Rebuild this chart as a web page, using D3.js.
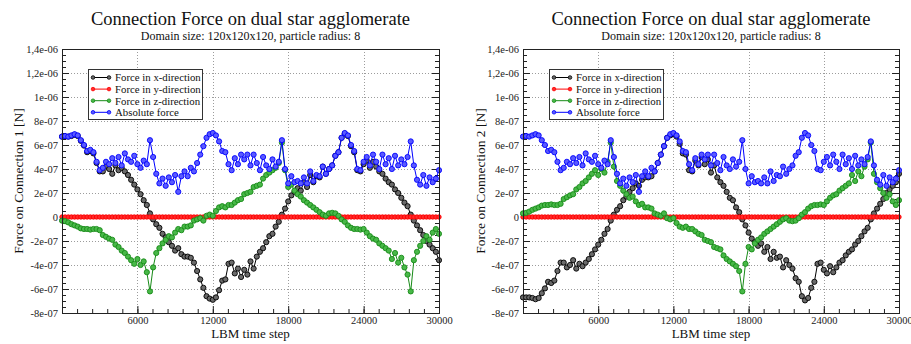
<!DOCTYPE html>
<html><head><meta charset="utf-8">
<script src="https://cdn.jsdelivr.net/npm/d3@7"></script>
<style>
body{margin:0;background:#fff;}
svg{display:block;font-family:"Liberation Serif","DejaVu Serif",serif;}
</style></head><body>
<svg id="c" width="911" height="344"></svg>
<script>
// LBM time steps of the samples (one every 250 steps)
const timeSteps = d3.range(0, 30001, 250);
// all forces below are in units of 1e-7 N
const absForce = [
 6.7,6.75,6.7,6.8,6.9,6.8,6.4,6.0,5.5,5.6,
 5.4,4.6,3.9,4.1,4.6,4.4,4.9,4.5,5.0,4.3,
 5.3,4.8,4.6,5.1,4.4,4.1,4.7,4.4,6.4,5.0,
 3.6,2.8,3.2,2.6,3.3,2.9,3.5,2.1,3.4,3.8,
 3.4,4.1,3.8,4.5,5.2,5.9,6.6,6.9,7.0,6.8,
 6.3,5.5,5.4,4.4,3.9,4.9,4.4,5.2,4.8,5.2,
 4.3,5.2,4.5,3.9,5.0,4.3,4.0,4.8,4.2,4.6,
 6.4,4.0,2.8,3.4,2.9,3.0,2.8,3.3,2.8,3.8,
 3.0,3.5,3.4,4.2,3.6,4.0,4.3,5.1,5.4,6.6,
 7.0,6.8,6.0,5.5,4.0,3.9,4.6,5.0,4.3,5.2,
 4.6,4.0,5.2,4.4,4.9,4.0,5.1,4.3,4.8,4.4,
 5.0,6.3,4.3,3.1,2.7,3.5,2.6,3.3,2.9,3.2,
 3.9];
const conn1X = [
 6.7,6.7,6.7,6.75,6.85,6.75,6.35,5.95,5.4,5.5,
 5.3,4.5,3.8,3.8,4.2,4.0,3.6,4.3,3.9,4.1,
 3.8,3.5,3.1,2.7,2.3,1.9,1.4,1.0,0.3,-0.2,
 -0.6,-0.9,-1.4,-1.7,-2.1,-2.4,-2.8,-2.6,-3.1,-3.3,
 -3.3,-3.4,-3.8,-4.5,-5.2,-5.9,-6.6,-6.8,-6.9,-6.7,
 -6.1,-5.3,-5.2,-3.9,-3.8,-4.7,-4.3,-5.0,-4.4,-4.8,
 -3.7,-4.3,-3.3,-2.9,-2.6,-2.1,-1.6,-1.4,-0.8,-0.4,
 0.2,0.7,1.3,1.8,2.1,2.4,2.2,2.9,2.5,3.5,
 2.9,3.4,3.3,4.2,3.6,4.0,4.3,5.1,5.4,6.6,
 6.95,6.75,5.9,5.4,3.9,3.8,4.4,4.7,4.1,4.6,
 4.2,3.8,3.6,3.2,2.9,2.7,2.3,2.0,1.6,1.2,
 0.9,0.2,-0.3,-0.7,-1.1,-1.5,-2.0,-2.3,-2.6,-2.9,
 -3.6];
const conn1Y = [
 0,0,0,0,0,0,0,0,0,0, 0,0,0,0,0,0,0,0,0,0, 0,0,0,0,0,0,0,0,0,0,
 0,0,0,0,0,0,0,0,0,0, 0,0,0,0,0,0,0,0,0,0, 0,0,0,0,0,0,0,0,0,0,
 0,0,0,0,0,0,0,0,0,0, 0,0,0,0,0,0,0,0,0,0, 0,0,0,0,0,0,0,0,0,0,
 0,0,0,0,0,0,0,0,0,0, 0,0,0,0,0,0,0,0,0,0, 0,0,0,0,0,0,0,0,0,0,
 0];
const conn1Z = [
 -0.3,-0.35,-0.45,-0.6,-0.7,-0.8,-0.95,-1.0,-1.0,-1.05,
 -1.0,-1.0,-1.1,-1.5,-1.65,-1.8,-1.9,-2.3,-2.5,-2.8,
 -3.0,-3.3,-3.6,-3.9,-3.5,-4.0,-3.7,-4.6,-6.2,-4.2,
 -3.0,-2.6,-2.2,-1.9,-1.6,-1.7,-1.3,-1.0,-1.1,-0.8,
 -0.8,-0.7,-0.3,-0.2,-0.1,-0.3,0.1,0.2,0.1,0.5,
 0.8,0.9,0.8,1.0,1.0,1.2,1.4,1.5,1.9,2.0,
 2.1,2.5,2.6,2.7,3.2,3.5,3.7,3.9,4.1,4.5,
 6.2,3.9,2.5,2.7,2.2,1.9,1.7,1.4,1.2,1.0,
 0.8,0.6,0.4,0.2,0.1,0.3,0.35,0.3,0.1,-0.2,
 -0.4,-0.7,-0.9,-1.0,-1.0,-1.05,-1.0,-1.3,-1.6,-1.8,
 -1.9,-2.2,-2.4,-2.6,-2.8,-3.5,-3.0,-3.8,-3.4,-4.2,
 -4.8,-6.2,-3.6,-2.9,-2.4,-2.0,-1.6,-1.9,-1.3,-1.0,
 -1.4];
const conn2X = [
 -6.7,-6.7,-6.7,-6.75,-6.85,-6.75,-6.35,-5.95,-5.4,-5.5,
 -5.3,-4.5,-3.8,-3.8,-4.2,-4.0,-3.6,-4.3,-3.9,-4.1,
 -3.8,-3.5,-3.1,-2.7,-2.3,-1.9,-1.4,-1.0,-0.3,0.2,
 0.6,0.9,1.4,1.7,2.1,2.4,2.8,2.6,3.1,3.3,
 3.3,3.4,3.8,4.5,5.2,5.9,6.6,6.8,6.9,6.7,
 6.1,5.3,5.2,3.9,3.8,4.7,4.3,5.0,4.4,4.8,
 3.7,4.3,3.3,2.9,2.6,2.1,1.6,1.4,0.8,0.4,
 -0.2,-0.7,-1.3,-1.8,-2.1,-2.4,-2.2,-2.9,-2.5,-3.5,
 -2.9,-3.4,-3.3,-4.2,-3.6,-4.0,-4.3,-5.1,-5.4,-6.6,
 -6.95,-6.75,-5.9,-5.4,-3.9,-3.8,-4.4,-4.7,-4.1,-4.6,
 -4.2,-3.8,-3.6,-3.2,-2.9,-2.7,-2.3,-2.0,-1.6,-1.2,
 -0.9,-0.2,0.3,0.7,1.1,1.5,2.0,2.3,2.6,2.9,
 3.6];
const conn2Y = [
 0,0,0,0,0,0,0,0,0,0, 0,0,0,0,0,0,0,0,0,0, 0,0,0,0,0,0,0,0,0,0,
 0,0,0,0,0,0,0,0,0,0, 0,0,0,0,0,0,0,0,0,0, 0,0,0,0,0,0,0,0,0,0,
 0,0,0,0,0,0,0,0,0,0, 0,0,0,0,0,0,0,0,0,0, 0,0,0,0,0,0,0,0,0,0,
 0,0,0,0,0,0,0,0,0,0, 0,0,0,0,0,0,0,0,0,0, 0,0,0,0,0,0,0,0,0,0,
 0];
const conn2Z = [
 0.3,0.35,0.45,0.6,0.7,0.8,0.95,1.0,1.0,1.05,
 1.0,1.0,1.1,1.5,1.65,1.8,1.9,2.3,2.5,2.8,
 3.0,3.3,3.6,3.9,3.5,4.0,3.7,4.6,6.2,4.2,
 3.0,2.6,2.2,1.9,1.6,1.7,1.3,1.0,1.1,0.8,
 0.8,0.7,0.3,0.2,0.1,0.3,-0.1,-0.2,-0.1,-0.5,
 -0.8,-0.9,-0.8,-1.0,-1.0,-1.2,-1.4,-1.5,-1.9,-2.0,
 -2.1,-2.5,-2.6,-2.7,-3.2,-3.5,-3.7,-3.9,-4.1,-4.5,
 -6.2,-3.9,-2.5,-2.7,-2.2,-1.9,-1.7,-1.4,-1.2,-1.0,
 -0.8,-0.6,-0.4,-0.2,-0.1,-0.3,-0.35,-0.3,-0.1,0.2,
 0.4,0.7,0.9,1.0,1.0,1.05,1.0,1.3,1.6,1.8,
 1.9,2.2,2.4,2.6,2.8,3.5,3.0,3.8,3.4,4.2,
 4.8,6.2,3.6,2.9,2.4,2.0,1.6,1.9,1.3,1.0,
 1.4];

const yTickValues = [-8e-7,-6e-7,-4e-7,-2e-7,0,2e-7,4e-7,6e-7,8e-7,1e-6,1.2e-6,1.4e-6];
const yTickLabels = ["-8e-07","-6e-07","-4e-07","-2e-07","0","2e-07","4e-07","6e-07","8e-07","1e-06","1,2e-06","1,4e-06"];
const xTickValues = [6000,12000,18000,24000,30000];
const xTickLabels = ["6000","12000","18000","24000","30000"];
const seriesNames = ["Force in x-direction","Force in y-direction","Force in z-direction","Absolute force"];
const titleText = "Connection Force on dual star agglomerate";
const subtitleText = "Domain size: 120x120x120, particle radius: 8";
const xLabelText = "LBM time step";
const yLabelTexts = ["Force on Connection 1 [N]","Force on Connection 2 [N]"];

const UNIT = 1e-7;
const strokeCol = ["#000000","#ff0000","#178a17","#0000ff"];
const fillCol = ["#6a6a6a","#ff2a2a","#48b848","#5a5aff"];
const TOP = 49, BOTTOM = 313;
const svg = d3.select("#c");

const panels = [
  {left:62, right:439, yLabel:yLabelTexts[0], series:[conn1X,conn1Y,conn1Z,absForce], ylx:23},
  {left:523, right:899, yLabel:yLabelTexts[1], series:[conn2X,conn2Y,conn2Z,absForce], ylx:485}
];

panels.forEach(p => {
  const g = svg.append("g");
  const x = d3.scaleLinear().domain([0,30000]).range([p.left,p.right]);
  const y = d3.scaleLinear().domain([-8e-7,1.4e-6]).range([BOTTOM,TOP]);
  const cx = (p.left+p.right)/2;

  // grid
  const grid = g.append("g").attr("stroke","#9c9c9c").attr("stroke-width",1).attr("stroke-dasharray","1,2");
  xTickValues.filter(v => v < 30000).forEach(v => {
    const px = Math.round(x(v))+0.5;
    grid.append("line").attr("x1",px).attr("x2",px).attr("y1",TOP).attr("y2",BOTTOM);
  });
  yTickValues.filter(v => v > -8e-7 && v < 1.4e-6).forEach(v => {
    const py = Math.round(y(v))+0.5;
    grid.append("line").attr("x1",p.left).attr("x2",p.right).attr("y1",py).attr("y2",py);
  });

  // axes
  const styleAxis = sel => { sel.select(".domain").remove(); sel.selectAll("line").attr("stroke","#222"); sel.selectAll("text").attr("font-family","Liberation Serif, serif").attr("font-size",10.5).attr("fill","#222"); };
  const minorY = d3.range(-8,14.01,0.5).map(v=>v*UNIT);
  g.append("g").attr("transform",`translate(${p.left},0)`)
    .call(d3.axisLeft(y).tickValues(yTickValues).tickFormat((d,i)=>yTickLabels[i]).tickSizeInner(-7).tickSizeOuter(0).tickPadding(4))
    .call(styleAxis);
  g.append("g").attr("transform",`translate(${p.left},0)`)
    .call(d3.axisLeft(y).tickValues(minorY).tickFormat("").tickSizeInner(-4).tickSizeOuter(0))
    .call(styleAxis);
  g.append("g").attr("transform",`translate(${p.right},0)`)
    .call(d3.axisRight(y).tickValues(yTickValues).tickFormat("").tickSizeInner(-7).tickSizeOuter(0))
    .call(styleAxis);
  g.append("g").attr("transform",`translate(${p.right},0)`)
    .call(d3.axisRight(y).tickValues(minorY).tickFormat("").tickSizeInner(-4).tickSizeOuter(0))
    .call(styleAxis);
  g.append("g").attr("transform",`translate(0,${BOTTOM})`)
    .call(d3.axisBottom(x).tickValues(xTickValues).tickFormat((d,i)=>xTickLabels[i]).tickSizeInner(-7).tickSizeOuter(0).tickPadding(4))
    .call(styleAxis);
  g.append("g").attr("transform",`translate(0,${BOTTOM})`)
    .call(d3.axisBottom(x).tickValues(d3.range(1200,30000,1200)).tickFormat("").tickSizeInner(-4).tickSizeOuter(0))
    .call(styleAxis);

  // series
  const clipId = "clip"+p.left;
  svg.append("clipPath").attr("id",clipId).append("rect").attr("x",p.left-3).attr("y",TOP).attr("width",p.right-p.left+6).attr("height",BOTTOM-TOP);
  const plot = g.append("g").attr("clip-path",`url(#${clipId})`);
  p.series.forEach((vals,si) => {
    const pts = timeSteps.map((t,i)=>[x(t), y(vals[i]*UNIT)]);
    const sg = plot.append("g");
    sg.append("path").attr("d",d3.line()(pts)).attr("fill","none").attr("stroke",strokeCol[si]).attr("stroke-width", si===1?3:1);
    sg.selectAll("circle").data(pts).join("circle")
      .attr("cx",d=>d[0]).attr("cy",d=>d[1]).attr("r", si===1?2.2:2.6)
      .attr("fill",fillCol[si]).attr("stroke",strokeCol[si]).attr("stroke-width",0.9);
  });

  // frame
  g.append("rect").attr("x",p.left+0.5).attr("y",TOP+0.5).attr("width",p.right-p.left).attr("height",BOTTOM-TOP)
    .attr("fill","none").attr("stroke","#222").attr("stroke-width",1);

  // legend
  const lx = p.left+26, ly = 69;
  const lg = g.append("g");
  lg.append("rect").attr("x",lx+0.5).attr("y",ly+0.5).attr("width",114).attr("height",50).attr("fill","#fff").attr("stroke","#333").attr("stroke-width",1);
  seriesNames.forEach((name,si) => {
    const yy = ly + 8.5 + si*11.6;
    lg.append("line").attr("x1",lx+5).attr("x2",lx+21).attr("y1",yy).attr("y2",yy).attr("stroke",strokeCol[si]).attr("stroke-width",1);
    [lx+5,lx+21].forEach(cxp => lg.append("circle").attr("cx",cxp).attr("cy",yy).attr("r",1.8).attr("fill",fillCol[si]).attr("stroke",strokeCol[si]).attr("stroke-width",0.8));
    lg.append("text").attr("x",lx+27).attr("y",yy+3.8).attr("font-size",10.8).attr("fill","#111").text(name);
  });

  // titles and labels
  g.append("text").attr("x",cx).attr("y",25).attr("text-anchor","middle").attr("font-size",18.5).attr("fill","#111").text(titleText);
  g.append("text").attr("x",cx).attr("y",40).attr("text-anchor","middle").attr("font-size",12).attr("fill","#111").text(subtitleText);
  g.append("text").attr("x",cx).attr("y",338).attr("text-anchor","middle").attr("font-size",13).attr("fill","#111").text(xLabelText);
  g.append("text").attr("transform",`translate(${p.ylx},${(TOP+BOTTOM)/2}) rotate(-90)`).attr("text-anchor","middle").attr("font-size",13.5).attr("fill","#111").text(p.yLabel);
});
</script>
</body></html>
